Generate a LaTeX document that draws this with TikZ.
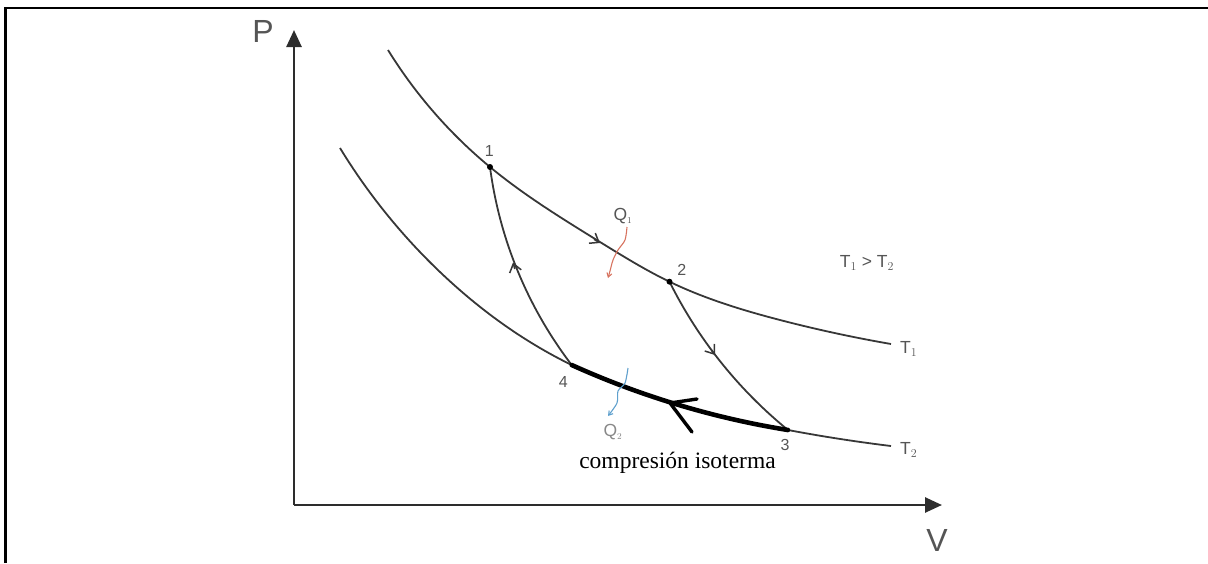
\documentclass[tikz,border=0pt]{standalone}
\usepackage{fontspec}
\setmainfont{Liberation Sans}
\newfontfamily\serifface{Liberation Serif}
\usetikzlibrary{arrows.meta,hobby}
\definecolor{curve}{RGB}{55,55,55}
\definecolor{axis}{RGB}{45,45,45}
\definecolor{lbl}{RGB}{85,85,85}
\definecolor{qred}{RGB}{215,115,95}
\definecolor{qblue}{RGB}{95,160,205}
\tikzset{
  iso/.style={draw=curve, line width=1.8pt, use Hobby shortcut},
  axisline/.style={draw=axis, line width=2.6pt, -{Triangle[length=17pt,width=15pt]}},
  chev/.style={draw=curve, line width=1.5pt, -{Straight Barb[length=8pt,width=12pt]}},
  ptlbl/.style={text=lbl, font=\fontsize{16}{16}\selectfont, inner sep=0pt},
  axlbl/.style={text=lbl, font=\fontsize{32}{32}\selectfont, inner sep=0pt},
  tlbl/.style={text=lbl, font=\fontsize{17.5}{17.5}\selectfont, inner sep=0pt},
  dot/.style={circle, fill=black, inner sep=0pt, minimum size=6pt},
}
\begin{document}
\begin{tikzpicture}[x=1pt,y=-1pt]
\useasboundingbox (0,0) rectangle (1208,563);
% frame
\draw[line width=2.8pt] (5.3,563) -- (5.3,8) -- (1208,8);
% axes
\coordinate (O) at (294,505);
\coordinate (Ptip) at (294,30);
\coordinate (Vtip) at (942,505);
\draw[axisline] (O) -- (Ptip);
\draw[axisline] (O) -- (Vtip);
\node[axlbl] (P) at (263,31) {P};
\node[axlbl] (V) at (937,540) {V};
% states
\coordinate (p1) at (490,167);
\coordinate (p2) at (669.5,281.7);
\coordinate (p3) at (788,430);
\coordinate (p4) at (571.7,365);
% isotherms
\draw[iso] (388,50) .. (p1) .. (600,242) .. (p2) .. (780,320) .. (891,344);
\draw[iso] (340,148) .. (440,272) .. (p4) .. (670,402) .. (p3) .. (891,446);
% adiabats
\draw[iso] (p1) .. (508,245) .. (p4);
\draw[iso] (p2) .. (716,356) .. (p3);
% direction chevrons
\draw[chev] (594,239.3) -- (600,243);
\draw[chev] (514.8,269) -- (513,262.5);
\draw[chev] (711.4,350) -- (715,355);
% thick isothermal compression
\draw[line width=4.6pt, line cap=round, use Hobby shortcut] (p3) .. (670,402.3) .. (p4);
\coordinate (hv) at (670,403);
\coordinate (ha) at (697,399);
\coordinate (hb) at (692,432);
\draw[line width=3.4pt, line cap=round, line join=round] (ha) -- (hv) -- (hb);
% dots
\node[dot] (d1) at (p1) {};
\node[dot] (d2) at (p2) {};
% state labels
\node[ptlbl] (l1) at (489.3,151) {1};
\node[ptlbl] (l2) at (681.7,270) {2};
\node[ptlbl] (l3) at (785,445) {3};
\node[ptlbl] (l4) at (563.3,381.7) {4};
% temperature labels
\node[tlbl] (tt) at (867,263) {T$_{\scriptstyle 1}$ > T$_{\scriptstyle 2}$};
\node[tlbl, anchor=west] (t1) at (900,349) {T$_{\scriptstyle 1}$};
\node[tlbl, anchor=west] (t2) at (900,450) {T$_{\scriptstyle 2}$};
% heat flows
\node[tlbl] (q1) at (623,216) {Q$_{\scriptscriptstyle 1}$};
\draw[qred, line width=1.1pt, -{Straight Barb[length=4pt,width=5pt]}] plot[smooth] coordinates {(627,227) (625,240) (618,250) (613,260) (610,271) (608,278)};
\node[tlbl, text=lbl!70] (q2) at (613,432) {Q$_{\scriptscriptstyle 2}$};
\draw[qblue, line width=1.1pt, -{Straight Barb[length=4pt,width=5pt]}] plot[smooth] coordinates {(628,368) (625,383) (618,391) (617,403) (608,416)};
% caption
\node[font=\serifface\fontsize{23.5}{23.5}\selectfont, inner sep=0pt] (cap) at (677.5,463) {compresión isoterma};
\end{tikzpicture}
\end{document}
